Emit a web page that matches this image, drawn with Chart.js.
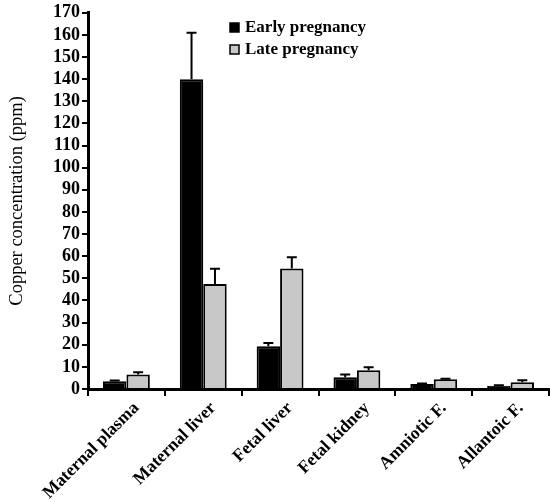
<!DOCTYPE html>
<html lang="en">
<head>
  <meta charset="UTF-8" />
  <title>Copper concentration</title>
  <script src="https://cdn.jsdelivr.net/npm/chart.js"></script>
  <style>
    body { margin: 0; background: #fff; }
    #wrap { width: 550px; height: 502px; }
  </style>
</head>
<body>
  <div id="wrap"><canvas id="chart" width="550" height="502"></canvas></div>
  <script>
    const categories = ['Maternal plasma', 'Maternal liver', 'Fetal liver', 'Fetal kidney', 'Amniotic F.', 'Allantoic F.'];
    const earlyValues = [3.5, 140, 19.3, 5.3, 2.3, 1.5];
    const earlyErrors = [0.3, 21, 1.5, 1.2, 0.2, 0.2];
    const lateValues = [6.6, 47.5, 54.5, 8.5, 4.4, 3.1];
    const lateErrors = [1.0, 6.8, 5, 1.3, 0.2, 0.9];
    const yTicks = { min: 0, max: 170, step: 10 };

    const serif = "'Liberation Serif', 'Times New Roman', serif";

    const errorBars = {
      id: 'errorBars',
      afterDatasetsDraw(chart) {
        const ctx = chart.ctx;
        const y = chart.scales.y;
        chart.data.datasets.forEach((ds, di) => {
          const meta = chart.getDatasetMeta(di);
          meta.data.forEach((bar, i) => {
            const err = ds.errors[i];
            if (!err) return;
            const top = y.getPixelForValue(ds.data[i] + err);
            ctx.save();
            ctx.strokeStyle = '#000';
            ctx.lineWidth = 2;
            ctx.beginPath();
            ctx.moveTo(bar.x, bar.y);
            ctx.lineTo(bar.x, top);
            ctx.moveTo(bar.x - 5, top);
            ctx.lineTo(bar.x + 5, top);
            ctx.stroke();
            ctx.restore();
          });
        });
      }
    };

    const boxLegend = {
      id: 'boxLegend',
      afterDraw(chart) {
        const ctx = chart.ctx;
        ctx.save();
        ctx.font = 'bold 17px ' + serif;
        ctx.textBaseline = 'middle';
        ctx.fillStyle = '#000';
        chart.data.datasets.forEach((ds, i) => {
          const cy = 28 + i * 22;
          ctx.fillStyle = ds.backgroundColor;
          ctx.fillRect(230, cy - 5, 9, 9);
          ctx.strokeStyle = '#000';
          ctx.lineWidth = 1.5;
          ctx.strokeRect(230, cy - 5, 9, 9);
          ctx.fillStyle = '#000';
          ctx.fillText(ds.label, 245, cy);
        });
        ctx.restore();
      }
    };

    new Chart(document.getElementById('chart'), {
      type: 'bar',
      data: {
        labels: categories,
        datasets: [
          { label: 'Early pregnancy', data: earlyValues, errors: earlyErrors, backgroundColor: '#000000', borderColor: '#000', borderWidth: 2 },
          { label: 'Late pregnancy', data: lateValues, errors: lateErrors, backgroundColor: '#c8c8c8', borderColor: '#000', borderWidth: 2 }
        ]
      },
      options: {
        responsive: false,
        animation: false,
        categoryPercentage: 0.61,
        barPercentage: 1,
        layout: { padding: { top: 12, right: 1, bottom: 0, left: 0 } },
        plugins: { legend: { display: false }, tooltip: { enabled: false } },
        scales: {
          x: {
            grid: { offset: true, drawOnChartArea: false, drawTicks: true, tickLength: 7, color: '#000', lineWidth: 2 },
            border: { display: true, color: '#000', width: 3 },
            ticks: { color: '#000', minRotation: 45, maxRotation: 45, labelOffset: 10, padding: 2, font: { family: serif, size: 17.5, weight: 'bold' } },
            afterFit(scale) { scale.height = 113; }
          },
          y: {
            min: yTicks.min,
            max: yTicks.max,
            grid: { drawOnChartArea: false, drawTicks: true, tickLength: 6, color: '#000', lineWidth: 2 },
            border: { display: true, color: '#000', width: 3 },
            ticks: { stepSize: yTicks.step, autoSkip: false, color: '#000', padding: 2, font: { family: serif, size: 18, weight: 'bold' } },
            title: { display: true, text: 'Copper concentration (ppm)', color: '#000', padding: { top: 6, bottom: 0 }, font: { family: serif, size: 18.5 } },
            afterFit(scale) { scale.width = 88; }
          }
        }
      },
      plugins: [errorBars, boxLegend]
    });
  </script>
</body>
</html>
